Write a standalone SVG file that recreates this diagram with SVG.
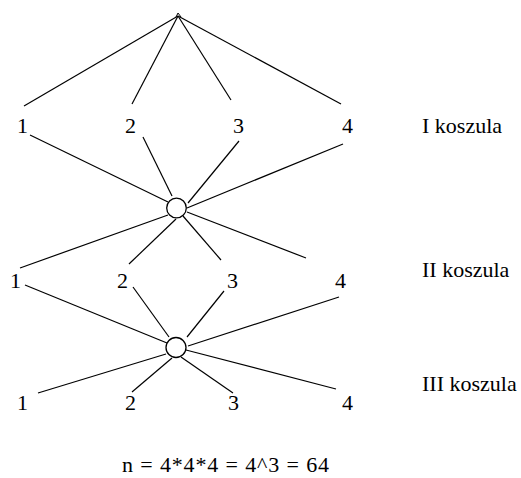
<svg xmlns="http://www.w3.org/2000/svg" width="521" height="478" viewBox="0 0 521 478">
<style>
.t{font-family:"Liberation Serif","Times New Roman",serif;font-size:22px;fill:#000}
.c line{stroke:#000;stroke-width:1.2;fill:none}
.n circle{stroke:#000;stroke-width:1.3;fill:#fff}
</style>
<rect width="521" height="478" fill="#fff"/>
<g id="connectors" class="c">
<line x1="178" y1="16" x2="24" y2="106"/>
<line x1="178" y1="16" x2="132" y2="104"/>
<line x1="178" y1="16" x2="231" y2="100"/>
<line x1="178" y1="16" x2="341" y2="104"/>
<line x1="30" y1="135" x2="168" y2="202"/>
<line x1="143" y1="137" x2="172" y2="196"/>
<line x1="239" y1="141" x2="188" y2="203"/>
<line x1="343" y1="144" x2="187" y2="208"/>
<line x1="168" y1="215" x2="20" y2="268"/>
<line x1="176" y1="219" x2="129" y2="264"/>
<line x1="183" y1="216" x2="221" y2="260"/>
<line x1="187" y1="212" x2="306" y2="258"/>
<line x1="25" y1="285" x2="167" y2="343"/>
<line x1="133" y1="287" x2="169" y2="337"/>
<line x1="224" y1="291" x2="187" y2="337"/>
<line x1="339" y1="297" x2="188" y2="346"/>
<line x1="166" y1="354" x2="38" y2="393"/>
<line x1="172" y1="358" x2="132" y2="392"/>
<line x1="181" y1="357" x2="233" y2="393"/>
<line x1="186" y1="350" x2="336" y2="389"/>
</g>
<g id="root"><line x1="176" y1="17" x2="178" y2="13" stroke="#000" stroke-width="1"/><line x1="178" y1="13" x2="181" y2="17" stroke="#000" stroke-width="1"/></g>
<g id="hub1" class="n"><circle cx="176.5" cy="208" r="9.8"/></g>
<g id="hub2" class="n"><circle cx="176" cy="347.5" r="10"/></g>
<g id="r1-1"><text class="t" x="17" y="133">1</text></g>
<g id="r1-2"><text class="t" x="125" y="133">2</text></g>
<g id="r1-3"><text class="t" x="233" y="133">3</text></g>
<g id="r1-4"><text class="t" x="342" y="133">4</text></g>
<g id="r2-1"><text class="t" x="10" y="288">1</text></g>
<g id="r2-2"><text class="t" x="117" y="288">2</text></g>
<g id="r2-3"><text class="t" x="227" y="288">3</text></g>
<g id="r2-4"><text class="t" x="335" y="288">4</text></g>
<g id="r3-1"><text class="t" x="17" y="410">1</text></g>
<g id="r3-2"><text class="t" x="125" y="410">2</text></g>
<g id="r3-3"><text class="t" x="228" y="410">3</text></g>
<g id="r3-4"><text class="t" x="342" y="410">4</text></g>
<g id="label1"><text class="t" x="422" y="133">I koszula</text></g>
<g id="label2"><text class="t" x="422" y="277">II koszula</text></g>
<g id="label3"><text class="t" x="422" y="391">III koszula</text></g>
<g id="formula"><text class="t" x="122" y="472" textLength="207" lengthAdjust="spacing">n = 4*4*4 = 4^3 = 64</text></g>
</svg>
